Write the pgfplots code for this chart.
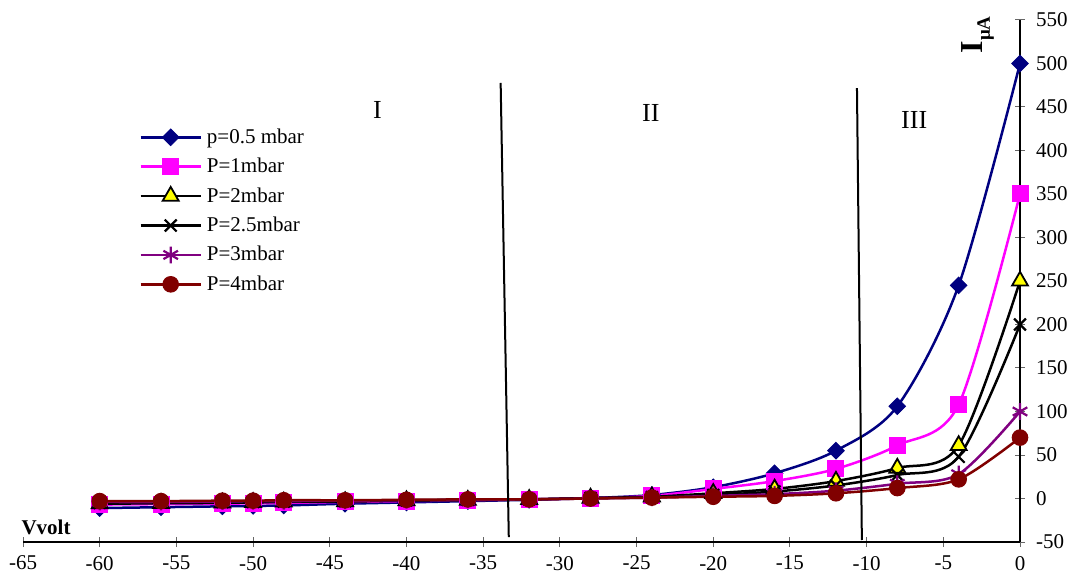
\documentclass[border=0pt]{standalone}
\usepackage{fontspec}
\setmainfont{Liberation Serif}
\usepackage{pgfplots}
\usepackage{pgfplotstable}
\pgfplotsset{compat=1.18}

\definecolor{navyP}{RGB}{0,0,128}
\definecolor{magentaP}{RGB}{255,0,255}
\definecolor{purpleP}{RGB}{128,0,128}
\definecolor{darkredP}{RGB}{128,0,0}
\definecolor{yellowP}{RGB}{255,255,0}

% current (uA) against probe voltage (V) for each pressure
\pgfplotstableread{
V      I
-60  -11
-56  -10
-52   -9
-50   -8.5
-48   -8
-44   -6
-40   -4.5
-36   -3
-32   -1.5
-28    0.5
-24    4
-20   13
-16   29
-12   55
-8   106
-4   245
0    500
}\pA
\pgfplotstableread{
V      I
-60   -7
-56   -6.5
-52   -6
-50   -5.5
-48   -5
-44   -4
-40   -3
-36   -2
-32   -1
-28    0.5
-24    3
-20   11
-16   20
-12   34
-8    61
-4   108
0    350
}\pB
\pgfplotstableread{
V      I
-60   -6
-56   -5.5
-52   -5
-50   -4.5
-48   -4
-44   -3.5
-40   -2.5
-36   -2
-32   -1
-28    0.5
-24    2
-20    6
-16   11
-12   20
-8    35
-4    61
0    250
}\pC
\pgfplotstableread{
V      I
-60   -5
-56   -4.5
-52   -4
-50   -4
-48   -3.5
-44   -3
-40   -2
-36   -1.5
-32   -1
-28    0.5
-24    1.5
-20    4
-16    8
-12   15
-8    27
-4    48
0    200
}\pD
\pgfplotstableread{
V      I
-60   -4
-56   -4
-52   -3.5
-50   -3
-48   -3
-44   -2.5
-40   -2
-36   -1.5
-32   -1
-28    0
-24    1
-20    3
-16    5
-12    9
-8    17
-4    28
0    100
}\pE
\pgfplotstableread{
V      I
-60   -3
-56   -3
-52   -2.5
-50   -2.5
-48   -2
-44   -2
-40   -1.5
-36   -1
-32   -1
-28    0
-24    1
-20    2
-16    3
-12    6
-8    12
-4    22
0     70
}\pF

\begin{document}
\begin{tikzpicture}
\begin{axis}[
  scale only axis,
  width=498.5pt, height=261pt,
  xmin=-65, xmax=0, ymin=-50, ymax=550,
  axis x line=bottom, axis y line=right,
  axis line style={-, line width=0.6pt},
  xtick={-65,-60,...,0}, ytick={-50,0,...,550},
  tick align=center, major tick length=5pt,
  tick style={line width=0.5pt, color=black!60},
  /pgf/number format/assume math mode=true,
  ticklabel style={font=\fontsize{10.5}{12}\selectfont},
  xticklabel style={yshift=-1pt},
  yticklabel style={xshift=2pt},
  clip=false,
  every axis plot/.append style={smooth, tension=0.5, line width=1.25pt},
  legend cell align=left,
  legend style={draw=none, fill=none, at={(0.1164,0.799)}, anchor=north west,
    inner sep=0pt, row sep=2.7pt,
    font=\fontsize{10.5}{12}\selectfont,
    nodes={inner sep=1pt, text height=8pt, text depth=2pt},
    /tikz/every odd column/.append style={column sep=1.5pt}},
  legend image code/.code={%
    \draw[mark repeat=2,mark phase=2] plot coordinates {(0pt,0pt) (15pt,0pt) (30pt,0pt)};},
]
\addplot[navyP, mark=square*, mark size=2.9pt, mark options={solid, fill=navyP, rotate=45, line width=0.5pt}] table[x=V,y=I] {\pA};
\addlegendentry{p=0.5 mbar}
\addplot[magentaP, mark=square*, mark size=4pt, mark options={solid, fill=magentaP, line width=0.5pt}] table[x=V,y=I] {\pB};
\addlegendentry{P=1mbar}
\addplot[black, mark=triangle*, mark size=4.6pt, mark options={solid, fill=yellowP, draw=black, line width=0.9pt}] table[x=V,y=I] {\pC};
\addlegendentry{P=2mbar}
\addplot[black, mark=x, mark size=4.2pt, mark options={solid, line width=1.1pt}] table[x=V,y=I] {\pD};
\addlegendentry{P=2.5mbar}
\addplot[purpleP, mark=asterisk, mark size=4.2pt, mark options={solid, line width=1.1pt}] table[x=V,y=I] {\pE};
\addlegendentry{P=3mbar}
\addplot[darkredP, mark=*, mark size=3.9pt, mark options={solid, fill=darkredP, line width=0.5pt}] table[x=V,y=I] {\pF};
\addlegendentry{P=4mbar}

% boundaries between the three regions
\draw[line width=1pt] (axis cs:-33.86,477.6) -- (axis cs:-33.33,-44.3);
\draw[line width=1pt] (axis cs:-10.63,471.8) -- (axis cs:-10.31,-47.7);
\node[font=\fontsize{13}{15}\selectfont] at (axis cs:-41.9,446.6) {I};
\node[font=\fontsize{13}{15}\selectfont] at (axis cs:-24.07,443) {II};
\node[font=\fontsize{13}{15}\selectfont] at (axis cs:-6.9,435) {III};

% axis titles
\node[font=\fontsize{10.5}{12}\selectfont\bfseries] at (axis cs:-63.5,-32.8) {Vvolt};
\node[rotate=90, inner sep=0pt] at (axis cs:-2.74,532.8)
  {{\fontsize{16}{18}\selectfont\bfseries I}\raisebox{-3.5pt}{\fontsize{9.5}{10}\selectfont\bfseries μA}};

\coordinate (bbSW) at (axis cs:-66.5,-91.4);
\coordinate (bbNE) at (axis cs:3.65,573);
\end{axis}
\path (bbSW) rectangle (bbNE);
\end{tikzpicture}
\end{document}
